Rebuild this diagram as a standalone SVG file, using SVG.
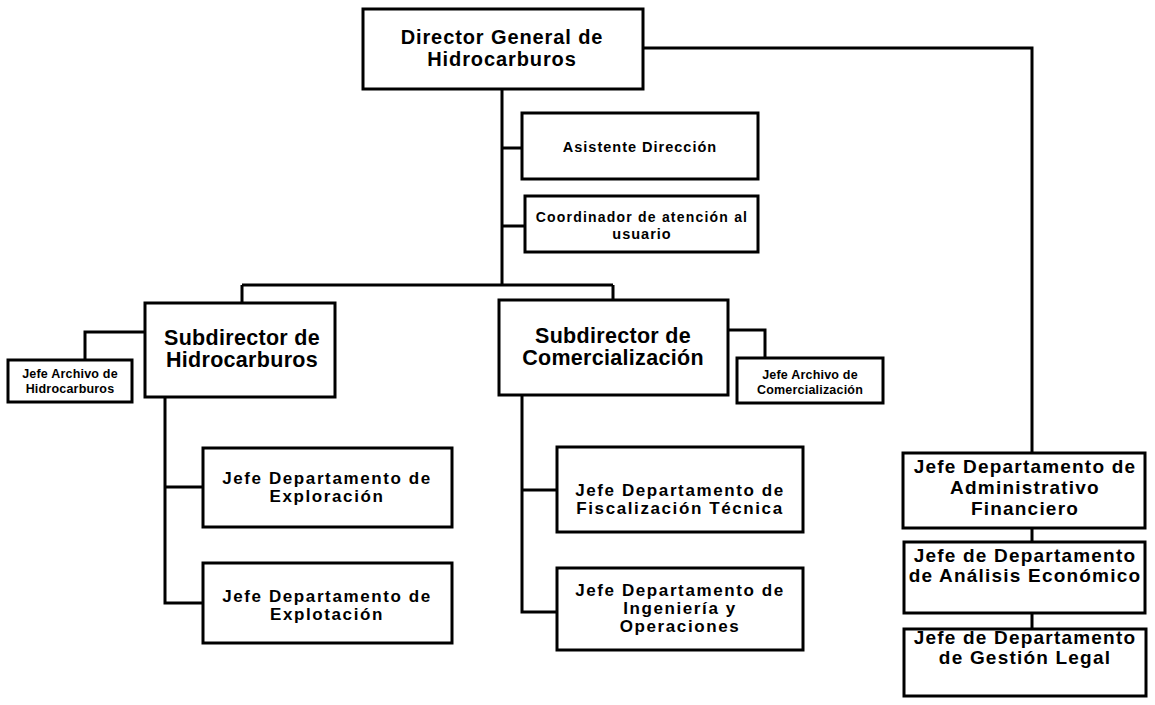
<svg xmlns="http://www.w3.org/2000/svg" width="1155" height="705" viewBox="0 0 1155 705">
<style>
.box{fill:#fff;stroke:#000;stroke-width:3}
.c{fill:none;stroke:#000;stroke-width:3}
text{font-family:"Liberation Sans",Arial,sans-serif;font-weight:bold;text-anchor:middle;fill:#000}
.f20{font-size:20px;letter-spacing:0.9px}
.f21{font-size:21.5px;letter-spacing:0.3px}
.f14{font-size:14.5px;letter-spacing:1px}
.f12{font-size:12.5px;letter-spacing:0.2px}
.f18{font-size:17px;letter-spacing:1.6px}
.f19{font-size:19px;letter-spacing:1.2px}
</style>
<rect width="1155" height="705" fill="#fff"/>
<g id="connectors">
<path class="c" d="M502 89 V285 M242 285 H613 M242 285 V303 M613 285 V300"/>
<path class="c" d="M502 148 H522 M502 226 H525"/>
<path class="c" d="M643 48 H1032 V453"/>
<path class="c" d="M145 332 H85 V360"/>
<path class="c" d="M728 330 H765 V358"/>
<path class="c" d="M165 397 V603 H203 M165 487 H203"/>
<path class="c" d="M522 395 V612 H557 M522 490 H557"/>
<path class="c" d="M1032 528 V542 M1032 613 V629"/>
</g>
<g id="director"><rect class="box" x="363" y="9" width="280" height="80"/>
<text class="f20" x="502" y="44">Director General de</text><text class="f20" x="502" y="66">Hidrocarburos</text></g>
<g id="asistente"><rect class="box" x="522" y="113" width="236" height="66"/>
<text class="f14" x="640" y="152">Asistente Dirección</text></g>
<g id="coordinador"><rect class="box" x="525" y="196" width="233" height="56"/>
<text class="f14" x="642" y="222" style="letter-spacing:1.2px;font-size:14px">Coordinador de atención al</text><text class="f14" x="642" y="239">usuario</text></g>
<g id="sub-hidrocarburos"><rect class="box" x="145" y="303" width="190" height="94"/>
<text class="f21" x="242" y="345">Subdirector de</text><text class="f21" x="242" y="367">Hidrocarburos</text></g>
<g id="archivo-hidrocarburos"><rect class="box" x="8" y="360" width="124" height="42"/>
<text class="f12" x="70" y="378">Jefe Archivo de</text><text class="f12" x="70" y="393">Hidrocarburos</text></g>
<g id="sub-comercializacion"><rect class="box" x="499" y="300" width="229" height="95"/>
<text class="f21" x="613" y="343">Subdirector de</text><text class="f21" x="613" y="365">Comercialización</text></g>
<g id="archivo-comercializacion"><rect class="box" x="737" y="358" width="146" height="45"/>
<text class="f12" x="810" y="379">Jefe Archivo de</text><text class="f12" x="810" y="394">Comercialización</text></g>
<g id="exploracion"><rect class="box" x="203" y="448" width="249" height="79"/>
<text class="f18" x="327" y="484">Jefe Departamento de</text><text class="f18" x="327" y="502">Exploración</text></g>
<g id="explotacion"><rect class="box" x="203" y="563" width="249" height="80"/>
<text class="f18" x="327" y="602">Jefe Departamento de</text><text class="f18" x="327" y="620">Explotación</text></g>
<g id="fiscalizacion"><rect class="box" x="557" y="447" width="246" height="85"/>
<text class="f18" x="680" y="496">Jefe Departamento de</text><text class="f18" x="680" y="514">Fiscalización Técnica</text></g>
<g id="ingenieria"><rect class="box" x="557" y="568" width="246" height="82"/>
<text class="f18" x="680" y="596">Jefe Departamento de</text><text class="f18" x="680" y="614">Ingeniería y</text><text class="f18" x="680" y="632">Operaciones</text></g>
<g id="administrativo"><rect class="box" x="903" y="453" width="242" height="75"/>
<text class="f19" x="1025" y="473">Jefe Departamento de</text><text class="f19" x="1025" y="494">Administrativo</text><text class="f19" x="1025" y="515">Financiero</text></g>
<g id="analisis"><rect class="box" x="904" y="542" width="241" height="71"/>
<text class="f19" x="1025" y="562">Jefe de Departamento</text><text class="f19" x="1025" y="582">de Análisis Económico</text></g>
<g id="gestion"><rect class="box" x="904" y="629" width="242" height="67"/>
<text class="f19" x="1025" y="644">Jefe de Departamento</text><text class="f19" x="1025" y="664">de Gestión Legal</text></g>
</svg>
